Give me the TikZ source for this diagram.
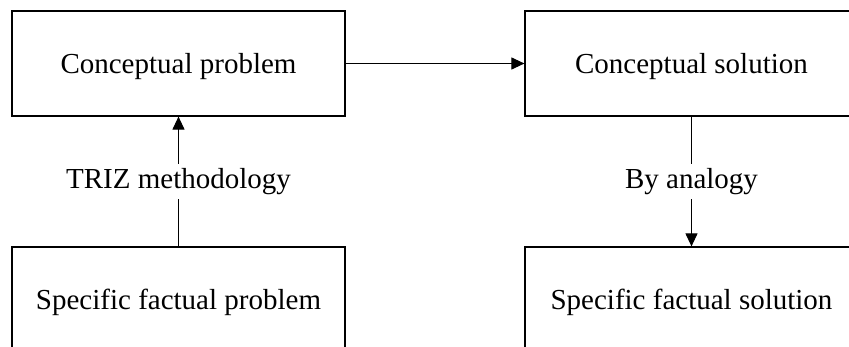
\documentclass[tikz,border=0pt]{standalone}
\usepackage{fontspec}
\setmainfont{Liberation Serif}
\usetikzlibrary{arrows.meta}
\tikzset{>={Triangle[length=13pt,width=12pt]}}
\tikzset{box/.style={draw, line width=1.2pt, minimum width=333pt, minimum height=105pt, inner sep=0pt, text depth=0pt, font=\fontsize{29}{34}\selectfont}}
\tikzset{lbl/.style={fill=white, inner sep=4pt, font=\fontsize{29}{34}\selectfont}}

\begin{document}
\begin{tikzpicture}[x=1pt, y=-1pt]
     \useasboundingbox (0,0) rectangle (849,347);
     \clip (0,0) rectangle (849,347);
     \node[box] (cprob) at (178.5,63.5) {Conceptual problem};
     \node[box] (csol) at (691.5,63.5) {Conceptual solution};
     \node[box] (fprob) at (178.5,299.5) {Specific factual problem};
     \node[box] (fsol) at (691.5,299.5) {Specific factual solution};
     \draw[->, line width=1.1pt] (cprob) -- (csol);
     \draw[->, line width=1.1pt] (fprob) -- node [lbl, midway] {TRIZ methodology} (cprob);
     \draw[->, line width=1.1pt] (csol) -- node [lbl, midway] {By analogy} (fsol);
\end{tikzpicture}
\end{document}
